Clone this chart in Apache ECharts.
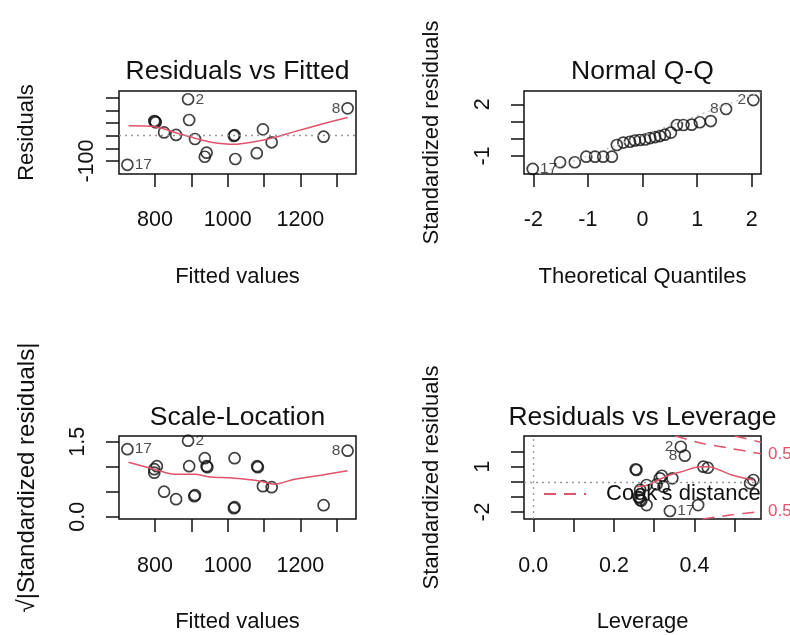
<!DOCTYPE html>
<html>
<head>
<meta charset="utf-8">
<title>lm diagnostics</title>
<script src="https://cdn.jsdelivr.net/npm/echarts@6/dist/echarts.min.js"></script>
<style>
  html, body { margin: 0; padding: 0; background: #fff; }
  #chart { width: 790px; height: 635px; }
</style>
</head>
<body>
<div id="chart"></div>
<script>
// Residuals vs Fitted
const rvfFitted = [724, 798, 802, 800, 825, 858, 891, 894, 910, 942, 937, 1017, 1019, 1021, 1080, 1097, 1121, 1264, 1330];
const rvfResid  = [-115, 58, 53, 56, 13, 3, 144, 62, -13, -67, -83, -1, 2, -92, -69, 25, -26, -4, 108];
const rvfIds    = ['17', '', '', '', '', '', '2', '', '', '', '', '', '', '', '', '', '', '', '8'];
const rvfSmoothX = [727, 800, 855, 910, 955, 1019, 1065, 1120, 1184, 1257, 1330];
const rvfSmoothY = [39, 35, 13, -10, -26, -34, -26, -10, 16, 45, 72];

// Normal Q-Q
const qqTheo = [-2.01, -1.51, -1.24, -1.03, -0.87, -0.72, -0.56, -0.47, -0.35, -0.23, -0.14, -0.05, 0.05,
                0.14, 0.23, 0.32, 0.41, 0.52, 0.63, 0.75, 0.9, 1.05, 1.25, 1.53, 2.03];
const qqStd  = [-1.75, -1.36, -1.36, -1.04, -1.04, -1.04, -1.04, -0.36, -0.22, -0.17, -0.1, -0.07, -0.04,
                0.04, 0.1, 0.16, 0.24, 0.36, 0.8, 0.8, 0.82, 0.96, 1.03, 1.73, 2.25];
const qqIds  = ['17', '', '', '', '', '', '', '', '', '', '', '', '', '', '', '', '', '', '', '', '', '', '', '8', '2'];
const qqLineX = [-2.2, 2.2];
const qqLineY = [-2.39, 2.75];

// Scale-Location
const slFitted = [724, 805, 798, 798, 825, 858, 891, 894, 908, 910, 937, 942, 944, 1019, 1017, 1019, 1081, 1083, 1097, 1121, 1264, 1330];
const slSqrt   = [1.35, 1.01, 0.95, 0.88, 0.5, 0.35, 1.52, 1.01, 0.41, 0.43, 1.17, 1.01, 0.99, 1.17, 0.17, 0.19, 1.01, 0.99, 0.61, 0.59, 0.23, 1.32];
const slIds    = ['17', '', '', '', '', '', '2', '', '', '', '', '', '', '', '', '', '', '', '', '', '', '8'];
const slSmoothX = [727, 798, 855, 910, 946, 1019, 1083, 1129, 1184, 1257, 1330];
const slSmoothY = [1.09, 0.95, 0.85, 0.85, 0.8, 0.77, 0.72, 0.65, 0.75, 0.83, 0.92];

// Residuals vs Leverage
const levH   = [0.366, 0.376, 0.254, 0.256, 0.319, 0.314, 0.345, 0.306, 0.281, 0.265, 0.323, 0.261, 0.263, 0.265, 0.268, 0.281, 0.339, 0.409, 0.422, 0.433, 0.546, 0.538];
const levStd = [2.32, 1.73, 0.83, 0.78, 0.4, 0.23, 0.23, -0.17, -0.21, -0.54, -0.32, -0.99, -1.05, -1.2, -1.25, -1.54, -1.93, -1.54, 1.0, 0.93, 0.12, -0.1];
const levIds = ['2', '8', '', '', '', '', '', '', '', '', '', '', '', '', '', '', '17', '', '', '', '', ''];
const levSmoothX = [0.257, 0.285, 0.31, 0.339, 0.368, 0.414, 0.434, 0.492, 0.546];
const levSmoothY = [-0.32, -0.21, 0.12, 0.45, 0.67, 1.0, 1.0, 0.45, 0.12];
const cookUpH = [0.352, 0.418, 0.492, 0.565];
const cookUpY = [3.03, 2.55, 2.2, 1.85];
const cookLoH = [0.42, 0.49, 0.565];
const cookLoY = [-2.46, -2.2, -1.95];
const cookOneH = [0.5, 0.565];
const cookOneY = [3.03, 2.62];

// tick marks / labels
const fitTicks = [800, 900, 1000, 1100, 1200, 1300];
const fitLabels = [800, 1000, 1200];
const rvfYTicks = [-100, -50, 0, 50, 100, 150];
const rvfYLabels = [-100];
const qqXTicks = [-2, -1, 0, 1, 2];
const qqYTicks = [-1, 0, 1, 2];
const qqYLabels = [-1, 2];
const slYTicks = [0, 0.5, 1, 1.5];
const slYLabels = [0, 1.5];
const levXTicks = [0, 0.1, 0.2, 0.3, 0.4, 0.5];
const levXLabels = [0, 0.2, 0.4];
const levYTicks = [-2, -1, 0, 1, 2];
const levYLabels = [-2, 1];

const FONT = 'Liberation Sans, Arial, Helvetica, sans-serif';
const INK = '#111';
const RED = '#DF536B';

const zip = (a, b) => a.map((v, i) => [v, b[i]]);

function points(xs, ys, ids, sides) {
  return xs.map((x, i) => {
    const item = { value: [x, ys[i]] };
    if (ids[i]) {
      item.label = {
        show: true,
        position: sides[ids[i]],
        distance: 1,
        formatter: ids[i],
        color: '#222',
        fontSize: 15.5,
        fontFamily: FONT
      };
    }
    return item;
  });
}

function axis(gridIndex, min, max, ticks, labels, fmt, name, nameGap, margin, isY, nameSize) {
  return {
    type: 'value',
    gridIndex: gridIndex,
    min: min,
    max: max,
    name: name,
    nameLocation: 'middle',
    nameGap: nameGap,
    nameRotate: isY ? 90 : 0,
    nameTextStyle: { fontSize: nameSize || 22, color: INK, fontFamily: FONT },
    axisLine: { show: false, onZero: false },
    axisTick: { show: true, inside: false, length: 13, customValues: ticks, lineStyle: { color: INK, width: 1.5 } },
    axisLabel: {
      show: true,
      customValues: labels,
      formatter: fmt,
      margin: margin,
      rotate: isY ? 90 : 0,
      fontSize: 21.5,
      color: INK,
      fontFamily: FONT
    },
    splitLine: { show: false }
  };
}

const plain = v => String(v);
const oneDec = v => v.toFixed(1);

const pointStyle = { color: 'rgba(0,0,0,0)', borderColor: '#111', borderWidth: 1.7 };
const zeroLine = (key) => ({
  silent: true,
  symbol: ['none', 'none'],
  label: { show: false },
  lineStyle: { type: [2, 4], color: '#999', width: 1.3 },
  data: key
});
const titleStyle = { fontSize: 26.5, fontWeight: 'normal', color: INK, fontFamily: FONT };

const chart = echarts.init(document.getElementById('chart'));

const option = {
  backgroundColor: '#fff',
  animation: false,
  textStyle: { fontFamily: FONT },
  title: [
    { text: 'Residuals vs Fitted', left: 237.5, top: 58, textAlign: 'center', padding: 0, textStyle: titleStyle },
    { text: 'Normal Q-Q', left: 642.5, top: 58, textAlign: 'center', padding: 0, textStyle: titleStyle },
    { text: 'Scale-Location', left: 237.5, top: 404, textAlign: 'center', padding: 0, textStyle: titleStyle },
    { text: 'Residuals vs Leverage', left: 642.5, top: 404, textAlign: 'center', padding: 0, textStyle: titleStyle }
  ],
  legend: {
    data: ["Cook's distance"],
    left: 543,
    top: 483,
    padding: 0,
    itemWidth: 42,
    itemHeight: 14,
    selectedMode: false,
    itemStyle: { opacity: 0 },
    textStyle: { fontSize: 22, color: INK, fontFamily: FONT, padding: [0, 0, 0, 15] }
  },
  grid: [
    { left: 119, top: 91, width: 237, height: 83, show: true, borderColor: INK, borderWidth: 1.5 },
    { left: 524, top: 91, width: 237, height: 83, show: true, borderColor: INK, borderWidth: 1.5 },
    { left: 119, top: 436, width: 237, height: 83, show: true, borderColor: INK, borderWidth: 1.5 },
    { left: 524, top: 436, width: 237, height: 83, show: true, borderColor: INK, borderWidth: 1.5 }
  ],
  xAxis: [
    axis(0, 700.9, 1353.1, fitTicks, fitLabels, plain, 'Fitted values', 92, 35, false),
    axis(1, -2.17, 2.17, qqXTicks, qqXTicks, plain, 'Theoretical Quantiles', 92, 35, false),
    axis(2, 700.9, 1353.1, fitTicks, fitLabels, plain, 'Fitted values', 92, 36, false),
    axis(3, -0.0231, 0.565, levXTicks, levXLabels, oneDec, 'Leverage', 92, 36, false)
  ],
  yAxis: [
    axis(0, -151.2, 176.5, rvfYTicks, rvfYLabels, plain, 'Residuals', 81, 21, true),
    axis(1, -2.043, 2.774, qqYTicks, qqYLabels, plain, 'Standardized residuals', 81, 30, true),
    axis(2, -0.046, 1.614, slYTicks, slYLabels, oneDec, '\u221A|Standardized residuals|', 80, 30, true, 24),
    axis(3, -2.46, 3.03, levYTicks, levYLabels, plain, 'Standardized residuals', 81, 30, true)
  ],
  series: [
    {
      type: 'scatter', xAxisIndex: 0, yAxisIndex: 0, symbolSize: 11, itemStyle: pointStyle,
      data: points(rvfFitted, rvfResid, rvfIds, { '17': 'right', '2': 'right', '8': 'left' }),
      markLine: zeroLine([{ yAxis: 0 }])
    },
    {
      type: 'line', xAxisIndex: 0, yAxisIndex: 0, symbol: 'none', smooth: 0.3,
      lineStyle: { color: RED, width: 1.5 }, data: zip(rvfSmoothX, rvfSmoothY)
    },
    {
      type: 'line', xAxisIndex: 1, yAxisIndex: 1, symbol: 'none',
      lineStyle: { color: '#bbb', width: 1.2, type: [2, 4] }, data: zip(qqLineX, qqLineY)
    },
    {
      type: 'scatter', xAxisIndex: 1, yAxisIndex: 1, symbolSize: 11, itemStyle: pointStyle,
      data: points(qqTheo, qqStd, qqIds, { '17': 'right', '8': 'left', '2': 'left' })
    },
    {
      type: 'scatter', xAxisIndex: 2, yAxisIndex: 2, symbolSize: 11, itemStyle: pointStyle,
      data: points(slFitted, slSqrt, slIds, { '17': 'right', '2': 'right', '8': 'left' })
    },
    {
      type: 'line', xAxisIndex: 2, yAxisIndex: 2, symbol: 'none', smooth: 0.3,
      lineStyle: { color: RED, width: 1.5 }, data: zip(slSmoothX, slSmoothY)
    },
    {
      type: 'scatter', xAxisIndex: 3, yAxisIndex: 3, symbolSize: 11, itemStyle: pointStyle,
      data: points(levH, levStd, levIds, { '2': 'left', '8': 'left', '17': 'right' }),
      markLine: zeroLine([{ yAxis: 0 }, { xAxis: 0 }])
    },
    {
      type: 'line', xAxisIndex: 3, yAxisIndex: 3, symbol: 'none', smooth: 0.3,
      lineStyle: { color: RED, width: 1.5 }, data: zip(levSmoothX, levSmoothY)
    },
    {
      name: "Cook's distance", type: 'line', xAxisIndex: 3, yAxisIndex: 3, symbol: 'none', smooth: 0.3,
      lineStyle: { color: RED, width: 1.5, type: [12, 8] }, itemStyle: { color: RED },
      endLabel: { show: true, formatter: '0.5', color: RED, fontSize: 17, distance: 7, fontFamily: FONT },
      data: zip(cookUpH, cookUpY)
    },
    {
      name: "Cook's distance", type: 'line', xAxisIndex: 3, yAxisIndex: 3, symbol: 'none', smooth: 0.3,
      lineStyle: { color: RED, width: 1.5, type: [12, 8] }, itemStyle: { color: RED },
      endLabel: { show: true, formatter: '0.5', color: RED, fontSize: 17, distance: 7, fontFamily: FONT },
      data: zip(cookLoH, cookLoY)
    },
    {
      name: "Cook's distance", type: 'line', xAxisIndex: 3, yAxisIndex: 3, symbol: 'none',
      lineStyle: { color: RED, width: 1.5, type: [12, 8] }, itemStyle: { color: RED },
      data: zip(cookOneH, cookOneY)
    }
  ]
};

chart.setOption(option);
window.addEventListener('resize', function () {
  chart.resize();
});
</script>
</body>
</html>
